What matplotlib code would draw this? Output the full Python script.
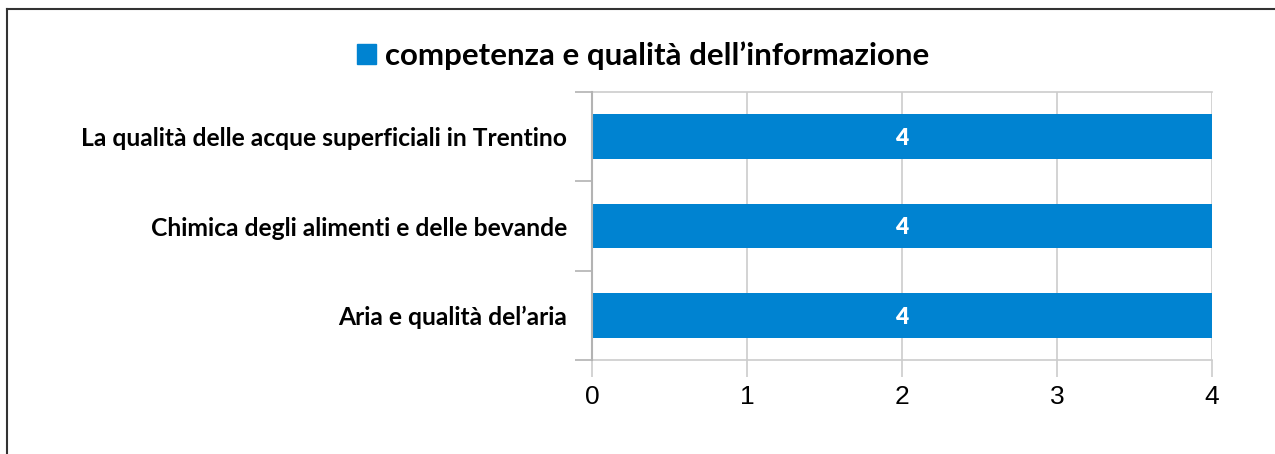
import matplotlib
matplotlib.use("Agg")
import matplotlib.pyplot as plt
from matplotlib.patches import Patch
from matplotlib.lines import Line2D
from matplotlib.ticker import FixedLocator

series_name = "competenza e qualità dell\u2019informazione"
categories = ["Aria e qualità del\u2019aria",
              "Chimica degli alimenti e delle bevande",
              "La qualità delle acque superficiali in Trentino"]
values = [4, 4, 4]
x_ticks = [0, 1, 2, 3, 4]

BLUE = "#0083d1"
W, H = 1275, 454
fig = plt.figure(figsize=(W / 100, H / 100), dpi=100)
ax = fig.add_axes([592 / W, 1 - 360 / H, (1212 - 592) / W, (360 - 92) / H])

ypos = list(range(len(categories)))
bars = ax.barh(ypos, values, height=0.5, color=BLUE, zorder=3)
lbls = ax.bar_label(bars, labels=[str(v) for v in values], label_type="center",
                    color="white", fontsize=16.5, fontweight="heavy", family="Lato")
for t in lbls:
    t.set_va("center_baseline")

ax.set_xlim(0, 4)
ax.set_ylim(-0.5, len(categories) - 0.5)
ax.set_xticks(x_ticks)
ax.set_xticklabels([str(t) for t in x_ticks], fontsize=19, family="Liberation Sans")
ax.set_yticks(ypos)
ax.set_yticklabels(categories, fontsize=17.7, fontweight="bold", family="Lato")
ax.yaxis.set_minor_locator(FixedLocator([i - 0.5 for i in range(len(categories) + 1)]))
ax.tick_params(axis="y", which="major", length=0, pad=18)
ax.tick_params(axis="y", which="minor", length=12, width=1.2, color="#b3b3b3")
ax.tick_params(axis="x", which="major", length=12, width=1.2, color="#cccccc", pad=6)

ax.grid(axis="x", color="#cccccc", linewidth=1.2, zorder=0)
for s in ["top", "bottom"]:
    ax.spines[s].set_color("#cccccc")
    ax.spines[s].set_linewidth(1.2)
ax.spines["right"].set_visible(False)
ax.spines["left"].set_color("#b3b3b3")
ax.spines["left"].set_linewidth(1.5)
ax.spines["left"].set_zorder(4)

fig.legend(handles=[Patch(color=BLUE)], labels=[series_name], loc="center",
           bbox_to_anchor=(643 / W, 1 - 56 / H), frameon=False,
           prop={"family": "Lato", "weight": "bold", "size": 22.5},
           handlelength=0.6, handleheight=0.6, handletextpad=0.3)

fig.add_artist(Line2D([7 / W, 7 / W], [0, 1 - 9 / H], transform=fig.transFigure,
                      color="#333333", linewidth=1.5))
fig.add_artist(Line2D([7 / W, 1], [1 - 9 / H, 1 - 9 / H], transform=fig.transFigure,
                      color="#333333", linewidth=1.5))

fig.savefig("out.png", dpi=100)
